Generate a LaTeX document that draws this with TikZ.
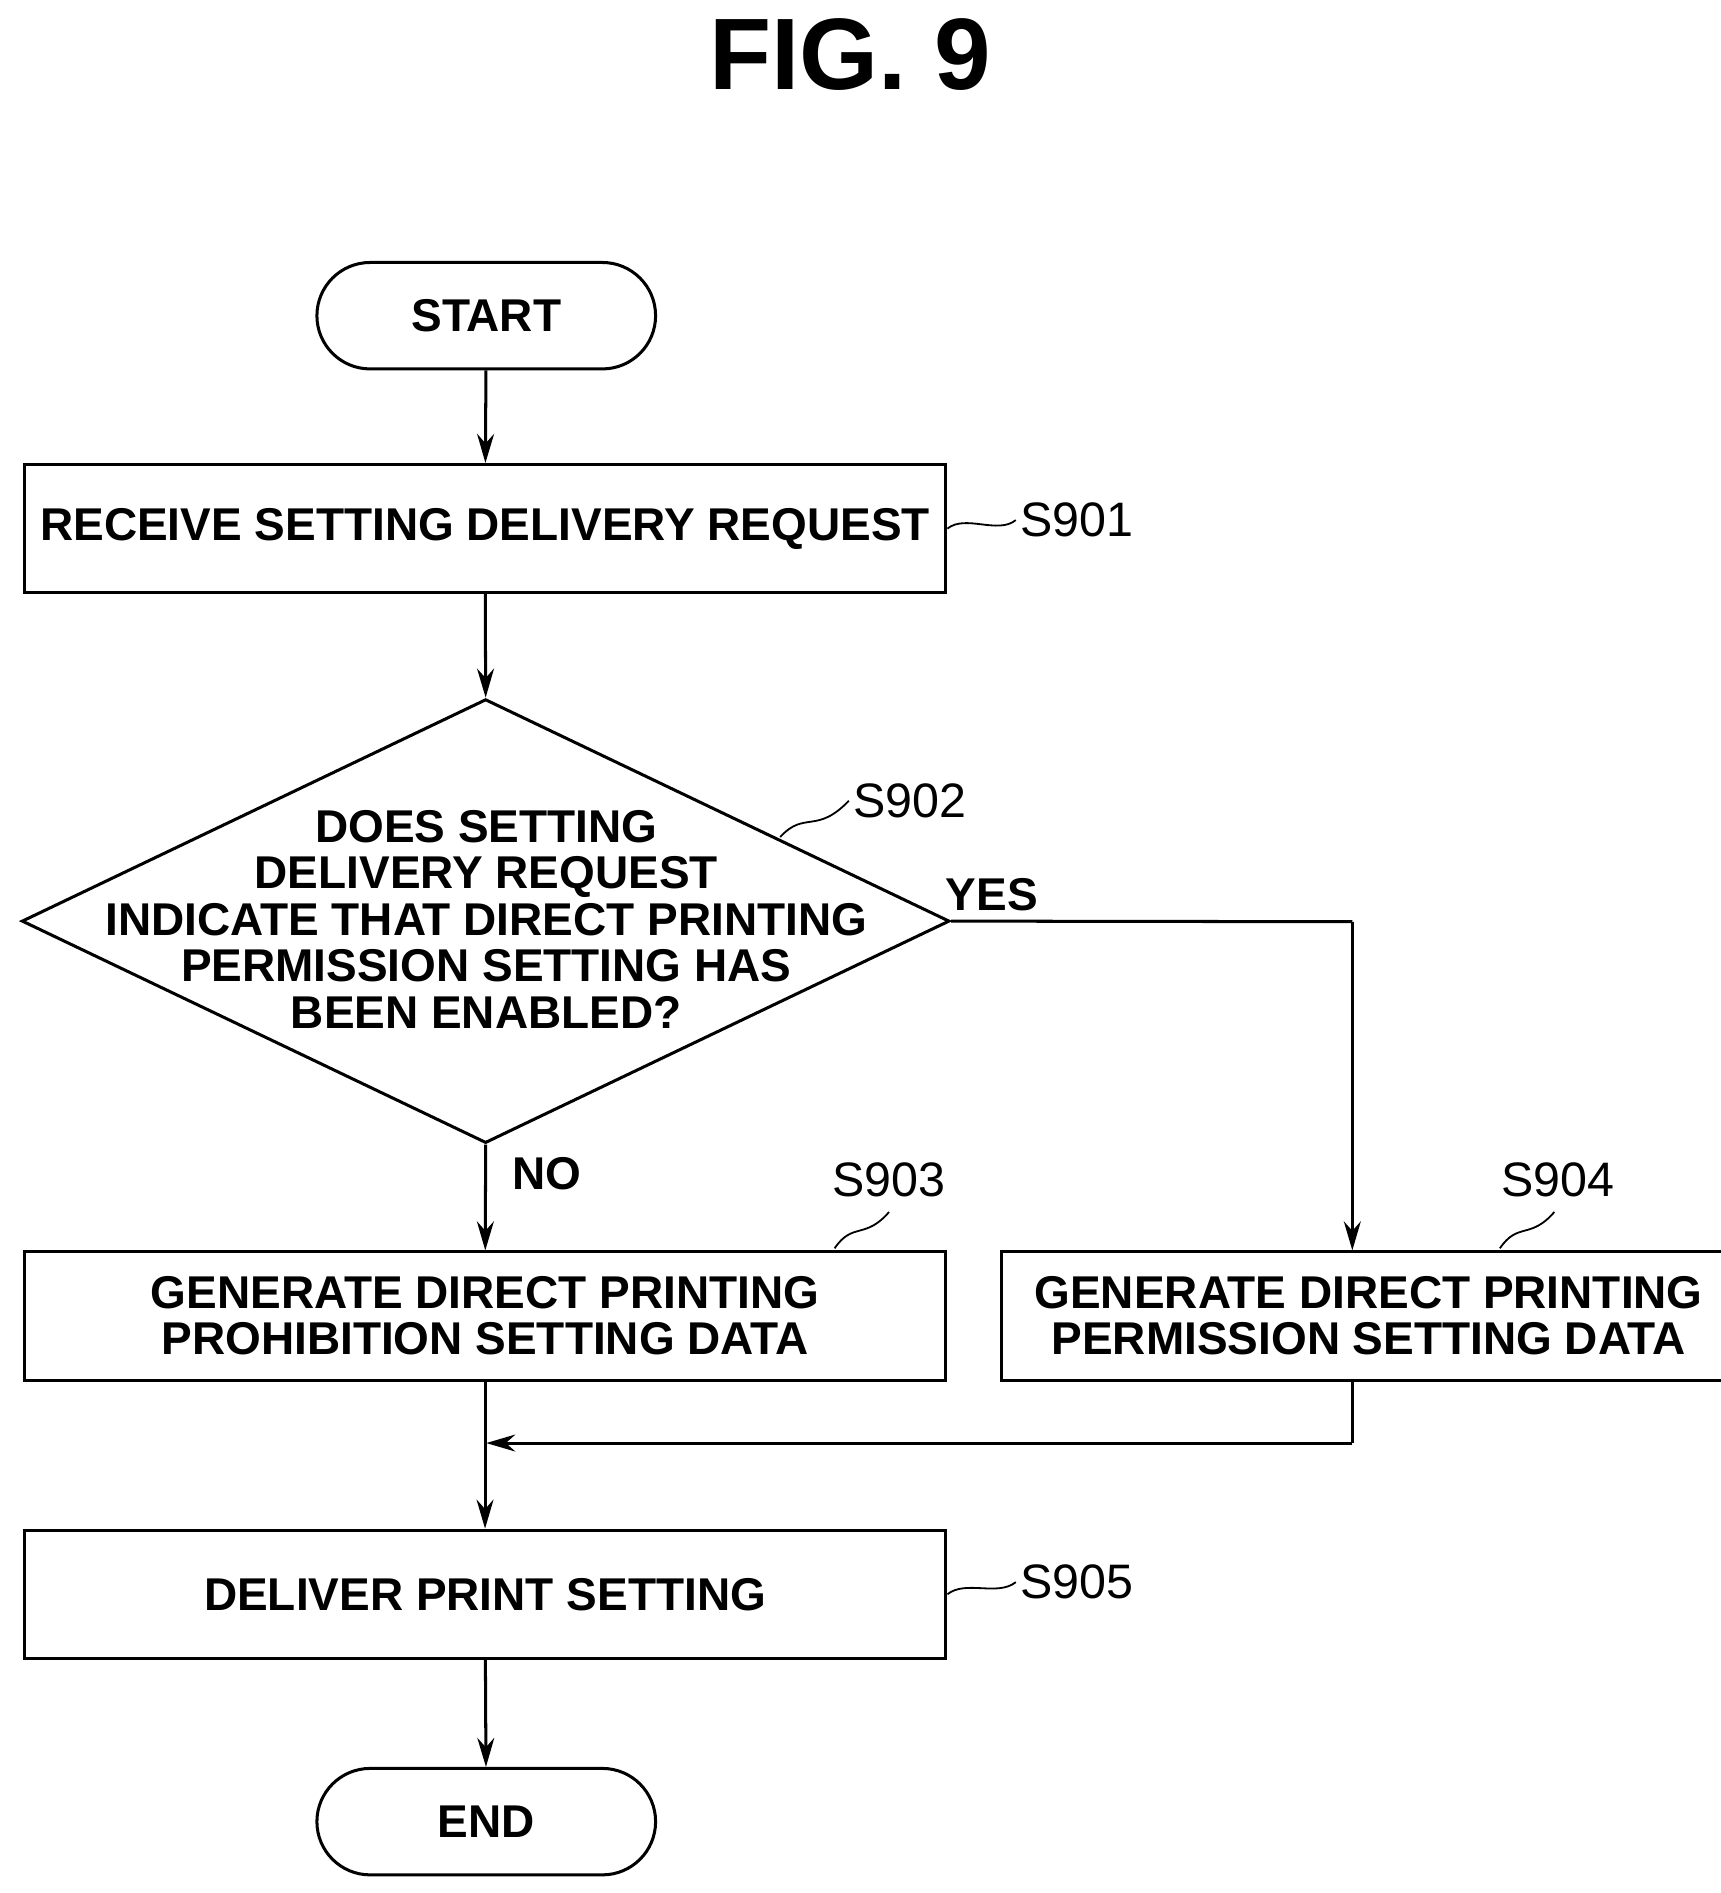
\documentclass[tikz,border=0pt]{standalone}
\usepackage{fontspec}
\setmainfont{Liberation Sans}
\usetikzlibrary{shapes.geometric,arrows.meta}
\begin{document}
\begin{tikzpicture}[x=1pt,y=-1pt,
  box/.style={draw,line width=2.5pt,inner sep=0pt,font=\fontsize{38}{38}\selectfont\bfseries,align=center},
  term/.style={box,rounded corners=44pt,minimum width=280pt,minimum height=88pt},
  proc/.style={box,minimum width=762pt,minimum height=106pt},
  lbl/.style={font=\fontsize{40}{40}\selectfont},
  sq/.style={line width=1.5pt},
  arr/.style={line width=2.5pt,-{Stealth[length=24pt,width=14pt]}},
  ln/.style={line width=2.5pt}]
\useasboundingbox (0,0) rectangle (1422,1565);
\node[font=\fontsize{84}{84}\selectfont\bfseries] (title) at (703,45) {FIG. 9};
\node[term] (start) at (402,261) {START};
\node[proc] (s901) at (401,437) {RECEIVE SETTING DELIVERY REQUEST};
\node[box,diamond,minimum width=767pt,minimum height=367pt,aspect=2.09] (d) at (401.5,761.5) {};
\node[box,font=\fontsize{38}{38.5}\selectfont\bfseries,draw=none] (dt) at (402,760) {DOES SETTING\\DELIVERY REQUEST\\INDICATE THAT DIRECT PRINTING\\PERMISSION SETTING HAS\\BEEN ENABLED?};
\node[proc] (s903) at (401,1088) {GENERATE DIRECT PRINTING\\PROHIBITION SETTING DATA};
\node[proc,minimum width=607pt] (s904) at (1131.5,1088) {GENERATE DIRECT PRINTING\\PERMISSION SETTING DATA};
\node[proc] (s905) at (401,1318) {DELIVER PRINT SETTING};
\node[term] (end) at (402,1506) {END};
\node[lbl] (l901) at (890,430) {S901};
\node[lbl] (l902) at (752,662) {S902};
\node[lbl] (l903) at (735,975) {S903};
\node[lbl] (l904) at (1288,975) {S904};
\node[lbl] (l905) at (890,1308) {S905};
\node[lbl,font=\fontsize{38}{38}\selectfont\bfseries] (yes) at (820,740) {YES};
\node[lbl,font=\fontsize{38}{38}\selectfont\bfseries] (no) at (452,970) {NO};
\coordinate (c1) at (1118,762);
\coordinate (m) at (1118,1193);
\coordinate (mj) at (402,1193);
\draw[arr] (start) -- (s901);
\draw[arr] (s901) -- (d.north);
\draw[arr] (d.south) -- (s903);
\draw[ln] (d.east) -- (c1);
\draw[arr] (c1) -- (s904.north -| c1);
\draw[arr] (s903) -- (s905);
\draw[ln] (s904.south -| m) -- (m);
\draw[arr] (m) -- (mj);
\draw[arr] (s905) -- (end);
\draw[sq] (s901.east) ++(0,0) .. controls +(15,-12) and +(-15,12) .. (l901.west);
\draw[sq] (645,692) .. controls (665,670) and (675,690) .. (l902.west);
\draw[sq] (690,1032) .. controls (705,1010) and (715,1025) .. (735,1002);
\draw[sq] (1240,1032) .. controls (1255,1010) and (1265,1025) .. (1285,1002);
\draw[sq] (s905.east) .. controls +(15,-12) and +(-15,12) .. (l905.west);
\end{tikzpicture}
\end{document}
